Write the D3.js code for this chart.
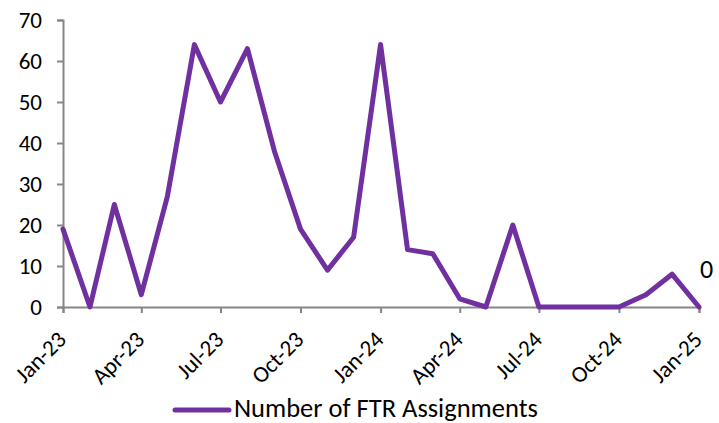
<!DOCTYPE html>
<html>
<head>
<meta charset="utf-8">
<script src="https://cdn.jsdelivr.net/npm/d3@7"></script>
<style>
  body { margin: 0; background: #fff; }
  text { font-family: Carlito, "Open Sans", "Noto Sans", sans-serif; fill: #000; }
</style>
</head>
<body>
<div id="chart"></div>
<script>
// monthly counts, Jan-23 .. Jan-25
const months = [
  "2023-01", "2023-02", "2023-03", "2023-04", "2023-05", "2023-06", "2023-07",
  "2023-08", "2023-09", "2023-10", "2023-11", "2023-12", "2024-01", "2024-02",
  "2024-03", "2024-04", "2024-05", "2024-06", "2024-07", "2024-08", "2024-09",
  "2024-10", "2024-11", "2024-12", "2025-01"
];
const assignments = [19, 0, 25, 3, 27, 64, 50, 63, 38, 19, 9, 17, 64, 14, 13, 2, 0, 20, 0, 0, 0, 0, 3, 8, 0];
const yTicks = [0, 10, 20, 30, 40, 50, 60, 70];
const seriesName = "Number of FTR Assignments";

const parse = d3.utcParse("%Y-%m");
const data = months.map((m, i) => ({ date: parse(m), value: assignments[i] }));

const fullWidth = 719;
const fullHeight = 423;
const margin = { top: 20, right: 20, bottom: 116, left: 63 };
const height = fullHeight - margin.top - margin.bottom;
const purple = "#7030a0";
const axisGrey = "#868686";

const svg = d3
  .select("#chart")
  .append("svg")
  .attr("width", fullWidth)
  .attr("height", fullHeight);

const g = svg.append("g").attr("transform", `translate(${margin.left}, ${margin.top})`);

const xScale = d3
  .scaleUtc()
  .domain(d3.extent(data, d => d.date))
  .range([0, 636]);

const yScale = d3.scaleLinear().domain([0, 70]).range([height, 0]);

// y axis
const yAxis = d3.axisLeft(yScale).tickValues(yTicks).tickSize(6).tickPadding(15);
const yG = g.append("g").call(yAxis);
yG.selectAll("text").style("font-size", "23px");

// x axis
const xTicks = d3.utcMonth.every(3).range(parse("2023-01"), d3.utcMonth.offset(parse("2025-01"), 1));
const xAxis = d3
  .axisBottom(xScale)
  .tickValues(xTicks)
  .tickSize(6)
  .tickFormat(d3.utcFormat("%b-%y"));
const xG = g.append("g").attr("transform", `translate(0, ${height})`).call(xAxis);
xG.selectAll("text")
  .style("font-size", "23px")
  .attr("text-anchor", "end")
  .attr("y", 0)
  .attr("dy", 0)
  .attr("transform", "translate(4, 34) rotate(-45)");

[yG, xG].forEach(a => {
  a.select(".domain").attr("stroke", axisGrey).attr("stroke-width", 2);
  a.selectAll(".tick line").attr("stroke", axisGrey).attr("stroke-width", 2);
});

// the series
const line = d3
  .line()
  .x(d => xScale(d.date))
  .y(d => yScale(d.value));

g.append("path")
  .datum(data)
  .attr("fill", "none")
  .attr("stroke", purple)
  .attr("stroke-width", 5)
  .attr("stroke-linejoin", "round")
  .attr("stroke-linecap", "round")
  .attr("d", line);

// label on last point
const last = data[data.length - 1];
g.append("text")
  .attr("x", xScale(last.date) + 1)
  .attr("y", yScale(last.value) - 29)
  .style("font-size", "26px")
  .text(last.value);

// legend
const legend = svg.append("g").attr("transform", "translate(175, 410)");
legend.append("line")
  .attr("x1", 0)
  .attr("x2", 54)
  .attr("stroke", purple)
  .attr("stroke-width", 5)
  .attr("stroke-linecap", "round");
legend.append("text")
  .attr("x", 59)
  .attr("y", 7)
  .style("font-size", "26.5px")
  .text(seriesName);
</script>
</body>
</html>
